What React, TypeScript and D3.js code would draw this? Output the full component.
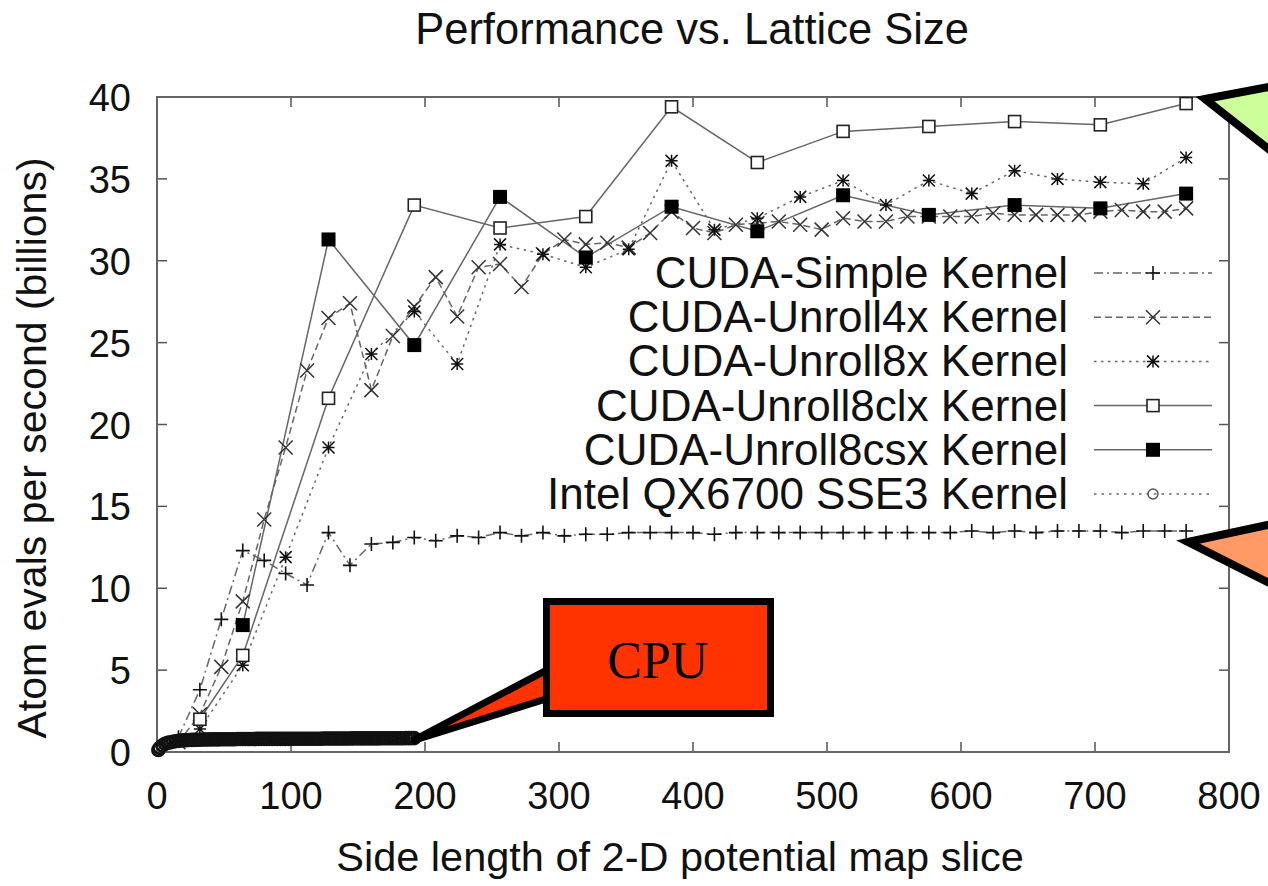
import React from "react";
import * as d3 from "d3";

const title = "Performance vs. Lattice Size";
const xLabel = "Side length of 2-D potential map slice";
const yLabel = "Atom evals per second (billions)";
const xTicks = [0, 100, 200, 300, 400, 500, 600, 700, 800];
const yTicks = [0, 5, 10, 15, 20, 25, 30, 35, 40];

const step16X = [16, 32, 48, 64, 80, 96, 112, 128, 144, 160, 176, 192, 208, 224, 240, 256, 272, 288, 304, 320, 336, 352, 368, 384, 400, 416, 432, 448, 464, 480, 496, 512, 528, 544, 560, 576, 592, 608, 624, 640, 656, 672, 688, 704, 720, 736, 752, 768];
const simpleY = [0.9, 3.8, 8.1, 12.3, 11.7, 10.9, 10.2, 13.4, 11.4, 12.7, 12.8, 13.1, 12.9, 13.2, 13.1, 13.4, 13.2, 13.4, 13.2, 13.3, 13.3, 13.4, 13.4, 13.4, 13.4, 13.3, 13.4, 13.4, 13.4, 13.4, 13.4, 13.4, 13.4, 13.4, 13.4, 13.4, 13.4, 13.5, 13.4, 13.5, 13.4, 13.5, 13.5, 13.5, 13.4, 13.5, 13.5, 13.5];
const unroll4Y = [0.6, 2.3, 5.2, 9.2, 14.2, 18.6, 23.3, 26.5, 27.4, 22.1, 25.4, 27.2, 29.0, 26.6, 29.6, 29.8, 28.4, 30.4, 31.3, 31.0, 31.1, 30.8, 31.7, 33.0, 32.0, 31.7, 32.2, 32.3, 32.4, 32.2, 31.9, 32.6, 32.4, 32.4, 32.7, 32.7, 32.7, 32.7, 32.9, 32.8, 32.8, 32.8, 32.8, 33.0, 33.1, 33.0, 33.0, 33.2];
const unroll8X = [32, 64, 96, 128, 160, 192, 224, 256, 288, 320, 352, 384, 416, 448, 480, 512, 544, 576, 608, 640, 672, 704, 736, 768];
const unroll8Y = [1.4, 5.3, 11.9, 18.6, 24.3, 26.9, 23.7, 31.0, 30.4, 29.6, 30.7, 36.1, 31.9, 32.6, 33.9, 34.9, 33.4, 34.9, 34.1, 35.5, 35.0, 34.8, 34.7, 36.3];
const clxX = [32, 64, 128, 192, 256, 320, 384, 448, 512, 576, 640, 704, 768];
const clxY = [2.0, 5.9, 21.6, 33.4, 32.0, 32.7, 39.4, 36.0, 37.9, 38.2, 38.5, 38.3, 39.6];
const csxX = [64, 128, 192, 256, 320, 384, 448, 512, 576, 640, 704, 768];
const csxY = [7.75, 31.3, 24.85, 33.9, 30.2, 33.3, 31.8, 34.0, 32.8, 33.4, 33.2, 34.1];
const cpuX = [1, 2, 4, 6, 8, 10, 12, 14, 16, 18, 20, 22, 24, 26, 28, 30, 32, 34, 36, 38, 40, 42, 44, 46, 48, 50, 52, 54, 56, 58, 60, 62, 64, 66, 68, 70, 72, 74, 76, 78, 80, 82, 84, 86, 88, 90, 92, 94, 96, 98, 100, 102, 104, 106, 108, 110, 112, 114, 116, 118, 120, 122, 124, 126, 128, 130, 132, 134, 136, 138, 140, 142, 144, 146, 148, 150, 152, 154, 156, 158, 160, 162, 164, 166, 168, 170, 172, 174, 176, 178, 180, 182, 184, 186, 188, 190, 192];
const cpuY = [0.12, 0.25, 0.4, 0.5, 0.56, 0.6, 0.63, 0.66, 0.68, 0.7, 0.71, 0.72, 0.73, 0.74, 0.74, 0.75, 0.75, 0.76, 0.76, 0.76, 0.77, 0.77, 0.77, 0.77, 0.78, 0.78, 0.78, 0.78, 0.78, 0.78, 0.79, 0.79, 0.79, 0.79, 0.79, 0.79, 0.79, 0.8, 0.8, 0.8, 0.8, 0.8, 0.8, 0.8, 0.8, 0.8, 0.8, 0.8, 0.8, 0.8, 0.8, 0.81, 0.81, 0.81, 0.81, 0.81, 0.81, 0.81, 0.81, 0.81, 0.81, 0.81, 0.82, 0.82, 0.82, 0.82, 0.82, 0.82, 0.82, 0.82, 0.82, 0.82, 0.82, 0.83, 0.83, 0.83, 0.83, 0.83, 0.83, 0.83, 0.83, 0.83, 0.83, 0.83, 0.84, 0.84, 0.84, 0.84, 0.84, 0.84, 0.84, 0.84, 0.84, 0.85, 0.85, 0.85, 0.85];

type Marker = "plus" | "cross" | "star" | "square" | "fsquare" | "circle";
const series: { name: string; xs: number[]; ys: number[]; dash: string; marker: Marker }[] = [
  { name: "CUDA-Simple Kernel", xs: step16X, ys: simpleY, dash: "9,4,2,4", marker: "plus" },
  { name: "CUDA-Unroll4x Kernel", xs: step16X, ys: unroll4Y, dash: "7,4", marker: "cross" },
  { name: "CUDA-Unroll8x Kernel", xs: unroll8X, ys: unroll8Y, dash: "2.5,4.5", marker: "star" },
  { name: "CUDA-Unroll8clx Kernel", xs: clxX, ys: clxY, dash: "", marker: "square" },
  { name: "CUDA-Unroll8csx Kernel", xs: csxX, ys: csxY, dash: "", marker: "fsquare" },
  { name: "Intel QX6700 SSE3 Kernel", xs: cpuX, ys: cpuY, dash: "2.5,5", marker: "circle" },
];

const FONT = "'Liberation Sans', Arial, Helvetica, sans-serif";

function MarkerShape({ type, cx, cy, legend }: { type: Marker; cx: number; cy: number; legend?: boolean }) {
  const s = 7;
  if (type === "plus")
    return <path d={`M${cx - s},${cy}H${cx + s}M${cx},${cy - s}V${cy + s}`} stroke="#111" strokeWidth={1.6} />;
  if (type === "cross")
    return <path d={`M${cx - s},${cy - s}L${cx + s},${cy + s}M${cx - s},${cy + s}L${cx + s},${cy - s}`} stroke="#333" strokeWidth={1.5} />;
  if (type === "star") {
    const t = 6;
    return (
      <path
        d={`M${cx - t},${cy}H${cx + t}M${cx},${cy - t}V${cy + t}M${cx - t},${cy - t}L${cx + t},${cy + t}M${cx - t},${cy + t}L${cx + t},${cy - t}`}
        stroke="#111"
        strokeWidth={1.5}
      />
    );
  }
  if (type === "square")
    return <rect x={cx - 6} y={cy - 6} width={12} height={12} fill="white" stroke="#222" strokeWidth={1.6} />;
  if (type === "fsquare") return <rect x={cx - 7} y={cy - 7} width={14} height={14} fill="#000" />;
  if (legend) return <circle cx={cx} cy={cy} r={5} fill="none" stroke="#555" strokeWidth={1.4} />;
  return <circle cx={cx} cy={cy} r={6} fill="none" stroke="#111" strokeWidth={2.6} />;
}

export default function App() {
  const W = 1268;
  const H = 886;
  const x = d3.scaleLinear().domain([0, 800]).range([157, 1229]);
  const y = d3.scaleLinear().domain([0, 40]).range([752, 97]);
  const [x0, x1] = x.range();
  const [y0, y1] = y.range();
  const line = d3
    .line<[number, number]>()
    .x((d) => x(d[0]))
    .y((d) => y(d[1]));

  const legendTextX = 1068;
  const legendY0 = 273;
  const legendStep = 44.2;

  return (
    <svg width={W} height={H} style={{ position: "absolute", left: 0, top: 0, background: "white" }} fontFamily={FONT}>
      <rect width={W} height={H} fill="white" />
      <text x={692} y={44} fontSize={43.5} textAnchor="middle" fill="#111">
        {title}
      </text>

      {/* ticks */}
      {xTicks.map((t) => (
        <g key={"xt" + t}>
          <line x1={x(t)} x2={x(t)} y1={y0} y2={y0 - 10} stroke="#555" strokeWidth={1.5} />
          <line x1={x(t)} x2={x(t)} y1={y1} y2={y1 + 10} stroke="#555" strokeWidth={1.5} />
          <text x={x(t)} y={809} fontSize={38} textAnchor="middle" fill="#111">
            {t}
          </text>
        </g>
      ))}
      {yTicks.map((t) => (
        <g key={"yt" + t}>
          <line x1={x0} x2={x0 + 10} y1={y(t)} y2={y(t)} stroke="#555" strokeWidth={1.5} />
          <line x1={x1} x2={x1 - 10} y1={y(t)} y2={y(t)} stroke="#555" strokeWidth={1.5} />
          <text x={131} y={y(t) + 14} fontSize={38} textAnchor="end" fill="#111">
            {t}
          </text>
        </g>
      ))}
      <rect x={x0} y={y1} width={x1 - x0} height={y0 - y1} fill="none" stroke="#666" strokeWidth={2} />

      <text x={680} y={871} fontSize={41.5} textAnchor="middle" fill="#111">
        {xLabel}
      </text>
      <text transform={`translate(46,448) rotate(-90)`} fontSize={41} textAnchor="middle" fill="#111">
        {yLabel}
      </text>

      {/* series lines */}
      {series.map((s) => (
        <path
          key={"l" + s.name}
          d={line(s.xs.map((v, i) => [v, s.ys[i]] as [number, number])) || ""}
          fill="none"
          stroke="#666"
          strokeWidth={1.5}
          strokeDasharray={s.dash || undefined}
        />
      ))}
      {/* markers */}
      {series.map((s) => (
        <g key={"m" + s.name}>
          {s.xs.map((v, i) => (
            <MarkerShape key={i} type={s.marker} cx={x(v)} cy={y(s.ys[i])} />
          ))}
        </g>
      ))}

      {/* legend */}
      {series.map((s, i) => {
        const ly = legendY0 + i * legendStep;
        return (
          <g key={"lg" + s.name}>
            <text x={legendTextX} y={ly + 15} fontSize={44} textAnchor="end" fill="#111">
              {s.name}
            </text>
            <line x1={1094} x2={1212} y1={ly} y2={ly} stroke="#666" strokeWidth={1.5} strokeDasharray={s.dash || undefined} />
            <MarkerShape type={s.marker} cx={1153} cy={ly} legend />
          </g>
        );
      })}

      {/* callouts */}
      <polygon points="1205,99 1295,82 1295,170" fill="#CCFF99" stroke="#000" strokeWidth={8} strokeLinejoin="miter" />
      <polygon points="1188,542 1295,519 1295,596" fill="#FF9966" stroke="#000" strokeWidth={8} strokeLinejoin="miter" />
      <polygon points="562,662 562,694 412,741" fill="#FF3300" stroke="#000" strokeWidth={7} strokeLinejoin="miter" />
      <rect x={546.5} y={601.5} width={224} height={112} fill="#FF3300" stroke="#000" strokeWidth={7} />
      <text x={658} y={678} fontSize={52} textAnchor="middle" fontFamily="'Liberation Serif', 'Times New Roman', serif" fill="#000">
        CPU
      </text>
    </svg>
  );
}
